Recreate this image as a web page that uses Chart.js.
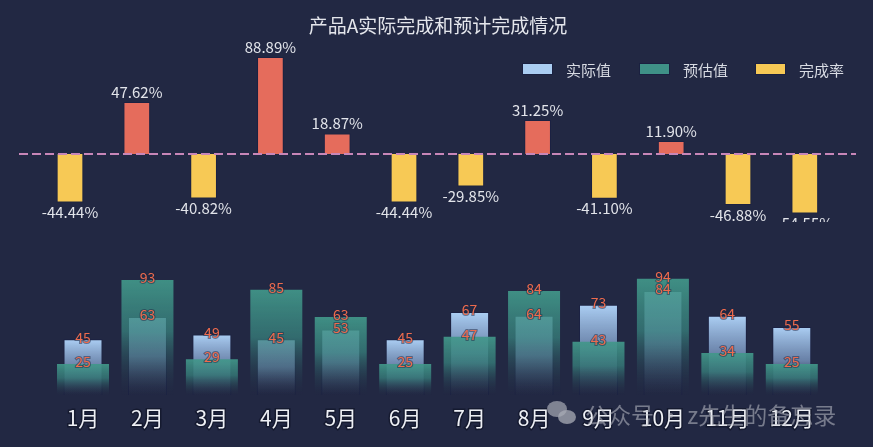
<!DOCTYPE html>
<html>
<head>
<meta charset="utf-8">
<script src="https://cdn.jsdelivr.net/npm/chart.js@4.4.1/dist/chart.umd.min.js"></script>
<style>
  html,body{margin:0;padding:0;background:#222843;}
  #wrap{position:relative;width:873px;height:447px;background:#222843;overflow:hidden;
    font-family:"Noto Sans CJK SC","Noto Sans",sans-serif;}
  #title{position:absolute;left:0;top:12px;width:876px;text-align:center;color:#e4e6ec;font-size:19px;line-height:26px;}
  .lg{position:absolute;top:60px;height:18px;display:flex;align-items:center;color:#d8dbe3;font-size:15px;}
  .lg i{display:inline-block;width:29px;height:10px;border:1px solid #1a2040;margin-right:13px;}
  #topc,#botc{position:absolute;left:0;}
  #topc{top:0;}
  #botc{top:222px;}
  #wm{position:absolute;left:585px;top:397px;font-size:23px;color:rgba(190,192,200,0.55);white-space:nowrap;}
  .wx{position:absolute;border-radius:50%;background:rgba(190,192,200,0.6);}
</style>
</head>
<body>
<div id="wrap">
  <canvas id="topc" width="873" height="222"></canvas>
  <canvas id="botc" width="873" height="225"></canvas>
  <div id="title">产品A实际完成和预计完成情况</div>
  <div class="lg" style="left:522px"><i style="background:#aacdf2"></i>实际值</div>
  <div class="lg" style="left:639px"><i style="background:#3f9187"></i>预估值</div>
  <div class="lg" style="left:755px"><i style="background:#f7c955"></i>完成率</div>
  <div class="wx" style="left:547px;top:401px;width:20px;height:16px;"></div>
  <div class="wx" style="left:558px;top:410px;width:18px;height:14px;background:rgba(170,172,182,0.75)"></div>
  <div id="wm">公众号 · z先生的备忘录</div>
</div>
<script>
const months = ["1月","2月","3月","4月","5月","6月","7月","8月","9月","10月","11月","12月"];
const actual = [45, 63, 49, 45, 53, 45, 67, 64, 73, 84, 64, 55];
const estimate = [25, 93, 29, 85, 63, 25, 47, 84, 43, 94, 34, 25];
const rate = [-44.44, 47.62, -40.82, 88.89, 18.87, -44.44, -29.85, 31.25, -41.10, 11.90, -46.88, -54.55];

const FONT = '"Noto Sans CJK SC", "Noto Sans", sans-serif';
Chart.defaults.font.family = FONT;
Chart.defaults.animation = false;

// per-bar vertical gradient, top of bar -> baseline
function fade(stops){
  return ctx => {
    const c = ctx.chart;
    if (!c.chartArea || ctx.type !== 'data') return stops[0][1];
    const y = c.scales.y;
    const top = y.getPixelForValue(ctx.raw), base = y.getPixelForValue(0);
    if (!isFinite(top) || top === base) return stops[0][1];
    const g = c.ctx.createLinearGradient(0, top, 0, base);
    stops.forEach(s => g.addColorStop(s[0], s[1]));
    return g;
  };
}

const rateLabels = {
  id: 'rateLabels',
  afterDatasetsDraw(chart){
    const ctx = chart.ctx, y0 = chart.scales.y.getPixelForValue(0);
    // dashed zero line
    ctx.save();
    ctx.strokeStyle = '#c886b8'; ctx.lineWidth = 2; ctx.setLineDash([9, 4]);
    ctx.beginPath(); ctx.moveTo(19, y0); ctx.lineTo(856, y0); ctx.stroke();
    ctx.setLineDash([]);
    ctx.font = '15px ' + FONT; ctx.fillStyle = '#e2e4ea';
    ctx.textAlign = 'center'; ctx.textBaseline = 'middle';
    chart.getDatasetMeta(0).data.forEach((el, i) => {
      const v = rate[i];
      const ty = v >= 0 ? el.y - 10 : el.y + 10;
      ctx.fillText(v.toFixed(2) + '%', el.x, ty);
    });
    ctx.restore();
  }
};

new Chart(document.getElementById('topc'), {
  type: 'bar',
  data: { labels: months, datasets: [{
    data: rate,
    backgroundColor: rate.map(v => v >= 0 ? '#e56c5c' : '#f7c955'),
    borderColor: '#1b2142', borderWidth: 1,
    barPercentage: 0.4, categoryPercentage: 1
  }]},
  options: {
    responsive: false, events: [],
    layout: { padding: { left: 36.6, right: 34.8, top: 45, bottom: 0 } },
    plugins: { legend: { display: false }, tooltip: { enabled: false } },
    scales: {
      x: { display: false },
      y: { display: false, min: -62.4, max: 100 }
    }
  },
  plugins: [rateLabels]
});

const valueLabels = {
  id: 'valueLabels',
  afterDatasetsDraw(chart){
    const ctx = chart.ctx;
    ctx.save();
    ctx.font = '14px ' + FONT; ctx.textAlign = 'center'; ctx.textBaseline = 'middle';
    ctx.fillStyle = '#ee6b4d'; ctx.strokeStyle = 'rgba(34,40,67,0.5)'; ctx.lineWidth = 2;
    [1, 0].forEach(di => {
      const vals = chart.data.datasets[di].data;
      chart.getDatasetMeta(di).data.forEach((el, i) => {
        ctx.strokeText(String(vals[i]), el.x, el.y - 2);
        ctx.fillText(String(vals[i]), el.x, el.y - 2);
      });
    });
    ctx.restore();
  }
};

new Chart(document.getElementById('botc'), {
  type: 'bar',
  data: { labels: months, datasets: [
    { label: '预估值', data: estimate, grouped: false,
      barPercentage: 0.807, categoryPercentage: 1,
      backgroundColor: fade([[0, 'rgba(66,152,138,0.92)'], [0.45, 'rgba(56,130,125,0.75)'], [1, 'rgba(34,40,67,0.15)']]) },
    { label: '实际值', data: actual, grouped: false,
      barPercentage: 0.605, categoryPercentage: 1,
      borderColor: '#1b2142', borderWidth: { top: 1, left: 1, right: 1, bottom: 0 },
      backgroundColor: fade([[0, 'rgba(172,207,244,1)'], [0.5, 'rgba(128,158,200,0.75)'], [1, 'rgba(34,40,67,0.2)']]) }
  ]},
  options: {
    responsive: false, events: [],
    layout: { padding: { left: 50.8, right: 49, top: 49.3, bottom: 12 } },
    plugins: { legend: { display: false }, tooltip: { enabled: false } },
    scales: {
      x: {
        grid: { display: false, drawTicks: false }, border: { display: false },
        ticks: { color: '#eef0f5', padding: 10, font: { size: 21 },
                 textStrokeColor: 'rgba(20,24,45,0.9)', textStrokeWidth: 3 },
        afterFit: s => { s.height = 40; }
      },
      y: { display: false, min: 0, max: 100 }
    }
  },
  plugins: [valueLabels]
});
</script>
</body>
</html>
